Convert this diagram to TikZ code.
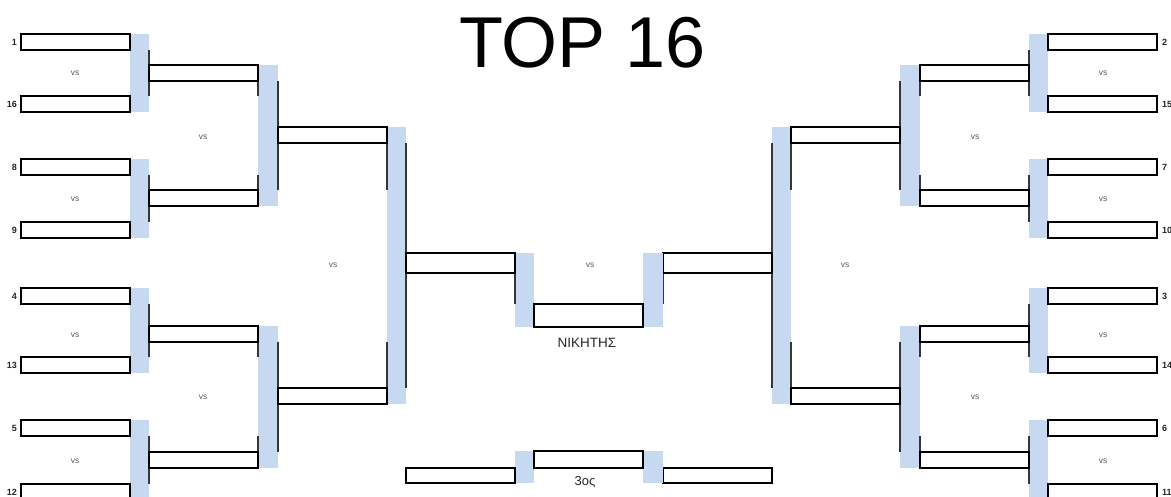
\documentclass[tikz,border=0pt]{standalone}
\usepackage{fontspec}
\setmainfont{Liberation Sans}
\definecolor{barblue}{RGB}{198,217,240}
\definecolor{linegray}{RGB}{55,55,55}
\definecolor{vsgray}{RGB}{90,90,90}
\newcommand{\bracketHalf}[1]{%
  % blue bars
  \fill[bar] (130,34) rectangle (149,112);
  \fill[bar] (130,159) rectangle (149,238);
  \fill[bar] (130,288) rectangle (149,373);
  \fill[bar] (130,420) rectangle (149,500);
  \fill[bar] (258,65) rectangle (278,206);
  \fill[bar] (258,326) rectangle (278,468);
  \fill[bar] (387,127) rectangle (406,404);
  \fill[bar] (515,253) rectangle (534,327);
  \fill[bar] (515,451) rectangle (534,483);
  % thin lines
  \foreach \a/\b in {50/96,175/222,304/357,436/484}{\draw[thinline] (149,\a) -- (149,\b);}
  \foreach \a/\b in {81/96,175/190,342/357,436/452}{\draw[thinline] (258,\a) -- (258,\b);}
  \draw[thinline] (278,81) -- (278,190);
  \draw[thinline] (278,342) -- (278,452);
  \draw[thinline] (387,143) -- (387,190);
  \draw[thinline] (387,342) -- (387,388);
  \draw[thinline] (406,143) -- (406,388);
  \draw[thinline] (515,273) -- (515,304);
  % boxes
  \foreach \t [count=\i] in {34,96,159,222,288,357,420,484}{\node[box] (#1-r1-\i) at (75.5,\t+8) {};}
  \foreach \t [count=\i] in {65,190,326,452}{\node[box] (#1-r2-\i) at (203.5,\t+8) {};}
  \foreach \t [count=\i] in {127,388}{\node[box] (#1-r3-\i) at (332.5,\t+8) {};}
  \node[box,minimum height=20pt] (#1-semi) at (460.5,263) {};
  \node[box,minimum height=15pt] (#1-third) at (460.5,475.5) {};
}
\begin{document}
\begin{tikzpicture}[x=1pt,y=-1pt,
  bar/.style={fill=barblue},
  thinline/.style={draw=linegray,line width=1.2pt},
  box/.style={draw=black,line width=2pt,fill=white,minimum width=109pt,minimum height=16pt,inner sep=0pt,outer sep=0pt},
  vs/.style={font=\fontsize{8.5}{8.5}\selectfont,text=vsgray,inner sep=0pt},
  seed/.style={font=\fontsize{9}{9}\selectfont\bfseries,text=black!85,inner sep=0pt}]
\useasboundingbox (0,0) rectangle (1171,497);
\clip (0,0) rectangle (1171,497);
\fill[white] (0,0) rectangle (1171,497);
\begin{scope}
\bracketHalf{L}
\end{scope}
\begin{scope}[xshift=1178pt,xscale=-1]
\bracketHalf{R}
\end{scope}
% center boxes
\fill[bar] (643,253) rectangle (663,327);
\fill[bar] (643,451) rectangle (663,483);
\node[box,minimum height=23pt] (final) at (588.5,315.5) {};
\node[box,minimum height=17pt] (thirdmid) at (588.5,459.5) {};
% title
\node[font=\fontsize{72}{72}\selectfont,inner sep=0pt,anchor=base] (title) at (582.5,68) {TOP 16};
\node[font=\fontsize{13.5}{13.5}\selectfont,text=black!85,inner sep=0pt,anchor=base] (winner) at (587,348) {ΝΙΚΗΤΗΣ};
\node[font=\fontsize{13}{13}\selectfont,text=black!85,inner sep=0pt,anchor=base] (thirdlbl) at (585,485) {3ος};
% seeds
\foreach \s/\t [count=\i] in {1/34,16/96,8/159,9/222,4/288,13/357,5/420,12/484}{\node[seed,anchor=east] (sl\i) at (17,\t+8) {\s};}
\foreach \s/\t [count=\i] in {2/34,15/96,7/159,10/222,3/288,14/357,6/420,11/484}{\node[seed,anchor=west] (sr\i) at (1162,\t+8) {\s};}
% vs labels
\foreach \y [count=\i] in {73,199,335,461}{\node[vs] (vl1-\i) at (75,\y) {vs}; \node[vs] (vr1-\i) at (1103,\y) {vs};}
\foreach \y [count=\i] in {137,397}{\node[vs] (vl2-\i) at (203,\y) {vs}; \node[vs] (vr2-\i) at (975,\y) {vs};}
\node[vs] (vl3) at (333,265) {vs};
\node[vs] (vr3) at (845,265) {vs};
\node[vs] (vfinal) at (590,265) {vs};
\end{tikzpicture}
\end{document}
